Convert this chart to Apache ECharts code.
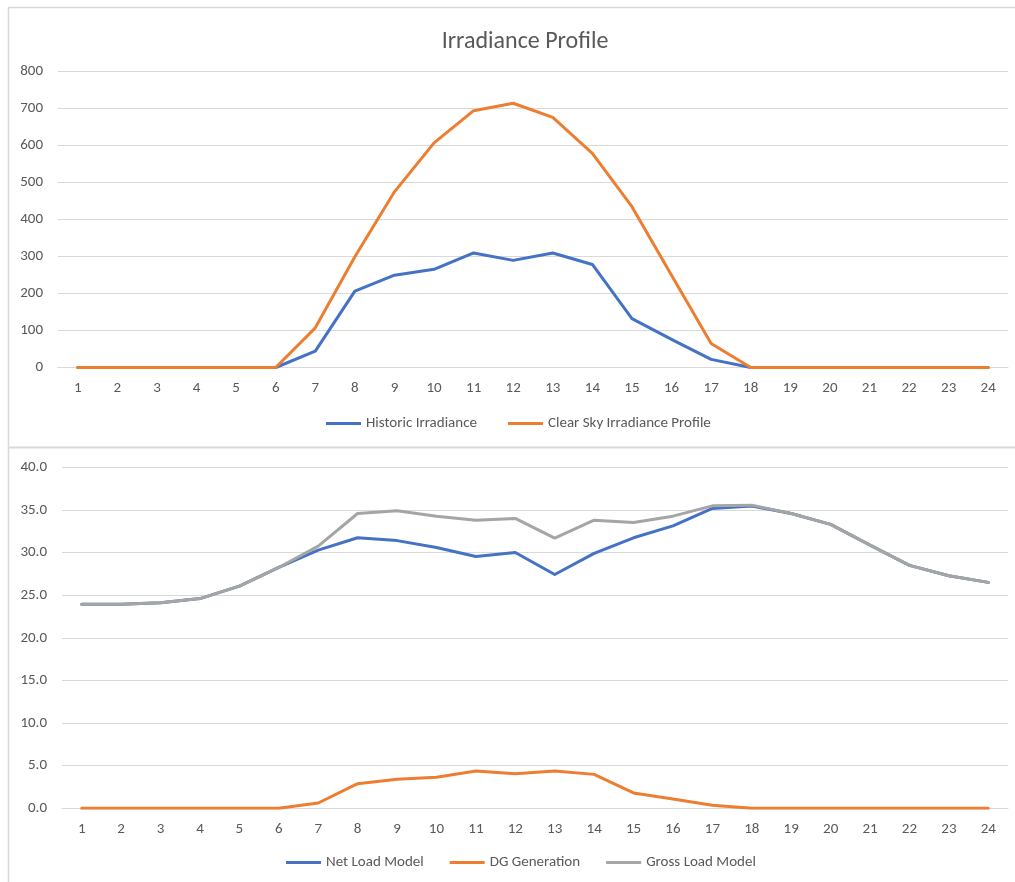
<!DOCTYPE html>
<html>
<head>
<meta charset="utf-8">
<script src="https://cdn.jsdelivr.net/npm/echarts@6/dist/echarts.min.js"></script>
<style>
html,body{margin:0;padding:0;background:#fff;}
#main{width:1015px;height:882px;}
</style>
</head>
<body>
<div id="main"></div>
<script>
var hours = ['1','2','3','4','5','6','7','8','9','10','11','12','13','14','15','16','17','18','19','20','21','22','23','24'];
var historicIrradiance = [0,0,0,0,0,0,44,206,249,265,309,289,309,278,132,76,22,0,0,0,0,0,0,0];
var clearSkyIrradiance = [0,0,0,0,0,0,107,299,474,606,693,713,675,578,434,249,65,0,0,0,0,0,0,0];
var netLoadModel = [23.95,23.95,24.1,24.6,26.06,28.25,30.28,31.73,31.4,30.6,29.54,30.0,27.43,29.9,31.73,33.13,35.17,35.45,34.58,33.3,30.87,28.49,27.27,26.5];
var dgGeneration = [0,0,0,0,0,0,0.62,2.89,3.4,3.63,4.37,4.06,4.37,3.98,1.8,1.1,0.35,0,0,0,0,0,0,0];
var grossLoadModel = [23.95,23.95,24.1,24.6,26.06,28.25,30.75,34.58,34.9,34.27,33.8,34.0,31.7,33.8,33.53,34.27,35.48,35.56,34.58,33.3,30.87,28.49,27.27,26.5];
var topTicks = [0,100,200,300,400,500,600,700,800];
var bottomTicks = [0,5,10,15,20,25,30,35,40];

var FONT = "Carlito, 'Liberation Sans', Arial, sans-serif";
var TXT = '#595959';
var GRID = '#d9d9d9';
var BLUE = '#4472C4', ORANGE = '#ED7D31', GRAY = '#A5A5A5';

function xAxis(gi){
  return {
    type:'category', gridIndex:gi, data:hours, boundaryGap:true,
    axisLine:{show:true,lineStyle:{color:GRID,width:1}},
    axisTick:{show:false},
    axisLabel:{color:TXT,fontFamily:FONT,fontSize:15,margin:13,interval:0}
  };
}
function yAxis(gi,ticks,fmt){
  return {
    type:'value', gridIndex:gi, min:ticks[0], max:ticks[ticks.length-1], interval:ticks[1]-ticks[0],
    axisLine:{show:false}, axisTick:{show:false},
    splitLine:{lineStyle:{color:GRID,width:1}},
    axisLabel:{color:TXT,fontFamily:FONT,fontSize:15,margin:15,formatter:fmt}
  };
}
function line(name,data,color,xi){
  return {
    name:name, type:'line', data:data, xAxisIndex:xi, yAxisIndex:xi,
    symbol:'none', smooth:false, color:color,
    lineStyle:{color:color,width:3,cap:'round',join:'round'},
    emphasis:{disabled:true}, animation:false
  };
}

var chart = echarts.init(document.getElementById('main'), null, {renderer:'canvas'});
chart.setOption({
  animation:false,
  backgroundColor:'#fff',
  title:{
    text:'Irradiance Profile', left:520, top:25, textAlign:'center',
    textStyle:{color:TXT,fontFamily:FONT,fontSize:24,fontWeight:'normal'}
  },
  graphic:[
    {type:'line',shape:{x1:8,y1:7.5,x2:1015,y2:7.5},style:{stroke:GRID,lineWidth:1.5},silent:true},
    {type:'line',shape:{x1:8.5,y1:7,x2:8.5,y2:882},style:{stroke:GRID,lineWidth:1.5},silent:true},
    {type:'line',shape:{x1:8,y1:447.5,x2:1015,y2:447.5},style:{stroke:GRID,lineWidth:2},silent:true}
  ],
  legend:[
    {
      data:['Historic Irradiance','Clear Sky Irradiance Profile'],
      left:326, top:416, padding:0, itemGap:31, itemWidth:35, itemHeight:3, icon:'rect',
      textStyle:{color:TXT,fontFamily:FONT,fontSize:15}, selectedMode:false
    },
    {
      data:['Net Load Model','DG Generation','Gross Load Model'],
      left:286, top:855, padding:0, itemGap:26, itemWidth:35, itemHeight:3, icon:'rect',
      textStyle:{color:TXT,fontFamily:FONT,fontSize:15}, selectedMode:false
    }
  ],
  grid:[
    {left:58, right:7, top:71, height:296.5, containLabel:false},
    {left:62, right:7, top:467.3, height:341, containLabel:false}
  ],
  xAxis:[xAxis(0), xAxis(1)],
  yAxis:[
    yAxis(0, topTicks, function(v){return String(v);}),
    yAxis(1, bottomTicks, function(v){return v.toFixed(1);})
  ],
  series:[
    line('Historic Irradiance', historicIrradiance, BLUE, 0),
    line('Clear Sky Irradiance Profile', clearSkyIrradiance, ORANGE, 0),
    line('Net Load Model', netLoadModel, BLUE, 1),
    line('DG Generation', dgGeneration, ORANGE, 1),
    line('Gross Load Model', grossLoadModel, GRAY, 1)
  ]
});
</script>
</body>
</html>
